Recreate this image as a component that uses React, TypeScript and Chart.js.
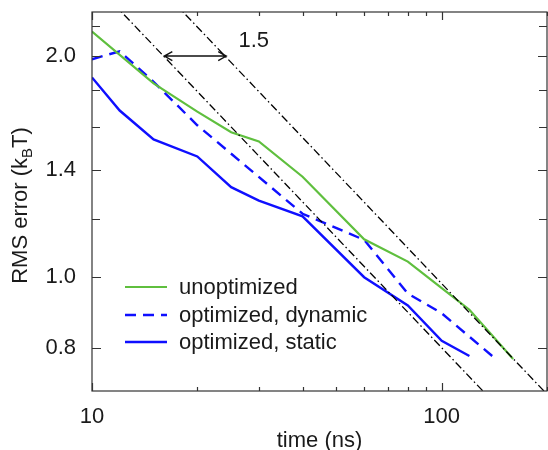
import React, { useEffect, useRef } from 'react';
import { Chart, registerables } from 'chart.js';
Chart.register(...registerables);

// ---- data ----
const unoptX = [10, 15, 20, 25, 30, 40, 60, 80, 100, 120, 160];
const unoptY = [2.16, 1.836, 1.68, 1.575, 1.53, 1.37, 1.126, 1.05, 0.966, 0.903, 0.774];
const dynX = [10, 12, 15, 20, 40, 60, 80, 100, 140];
const dynY = [1.98, 2.03, 1.845, 1.61, 1.22, 1.124, 0.95, 0.893, 0.78];
const statX = [10, 12, 15, 20, 25, 30, 40, 60, 80, 100, 120];
const statY = [1.87, 1.686, 1.54, 1.46, 1.326, 1.271, 1.21, 1.0, 0.915, 0.819, 0.781];
const guide1X = [10, 135];
const guide1Y = [2.53, 0.69];
const guide2X = [15, 200];
const guide2Y = [2.53, 0.693];
const arrowX = [16.1, 24.2];
const arrowY = 2.0;
const ratioLabel = '1.5';
const ratioLabelPos = [29, 2.1];

const xTicks = [10, 20, 30, 40, 50, 60, 70, 80, 90, 100, 200];
const xLabelVals = [10, 100];
const yTicks = [0.8, 1.0, 1.2, 1.4, 1.6, 1.8, 2.0, 2.2];
const yLabelVals = [0.8, 1.0, 1.4, 2.0];

const seriesNames = ['unoptimized', 'optimized, dynamic', 'optimized, static'];
const GREEN = '#5fbf3e';
const BLUE = '#0f0fff';
const FONT = '"Liberation Sans", Arial, Helvetica, sans-serif';
const TEXT = '#1a1a1a';

const pts = (xs: number[], ys: number[]) => xs.map((x, i) => ({ x, y: ys[i] }));

const zeroPad = (s: any) => {
  s.paddingTop = 0;
  s.paddingBottom = 0;
  s.paddingLeft = 0;
  s.paddingRight = 0;
};

const decorPlugin = {
  id: 'decor',
  afterDatasetsDraw(chart: any) {
    const { ctx, chartArea: a, scales } = chart;
    const xs = scales.x;
    const ys = scales.y;
    ctx.save();
    // frame
    ctx.strokeStyle = '#333';
    ctx.lineWidth = 1.2;
    ctx.strokeRect(a.left, a.top, a.right - a.left, a.bottom - a.top);
    // ticks (inward, mirrored)
    ctx.beginPath();
    for (const v of xTicks) {
      const px = Math.round(xs.getPixelForValue(v)) + 0.5;
      const len = xLabelVals.includes(v) ? 8 : 4;
      ctx.moveTo(px, a.bottom);
      ctx.lineTo(px, a.bottom - len);
      ctx.moveTo(px, a.top);
      ctx.lineTo(px, a.top + len);
    }
    for (const v of yTicks) {
      const py = Math.round(ys.getPixelForValue(v)) + 0.5;
      const len = yLabelVals.includes(v) ? 9 : 8;
      ctx.moveTo(a.left, py);
      ctx.lineTo(a.left + len, py);
      ctx.moveTo(a.right, py);
      ctx.lineTo(a.right - len, py);
    }
    ctx.stroke();

    // double arrow
    const ax1 = xs.getPixelForValue(arrowX[0]);
    const ax2 = xs.getPixelForValue(arrowX[1]);
    const ay = ys.getPixelForValue(arrowY);
    ctx.strokeStyle = '#111';
    ctx.lineWidth = 1.4;
    ctx.beginPath();
    ctx.moveTo(ax1, ay);
    ctx.lineTo(ax2, ay);
    ctx.moveTo(ax1 + 8, ay - 4.5);
    ctx.lineTo(ax1, ay);
    ctx.lineTo(ax1 + 8, ay + 4.5);
    ctx.moveTo(ax2 - 8, ay - 4.5);
    ctx.lineTo(ax2, ay);
    ctx.lineTo(ax2 - 8, ay + 4.5);
    ctx.stroke();

    ctx.fillStyle = TEXT;
    ctx.font = `22px ${FONT}`;
    ctx.textAlign = 'center';
    ctx.textBaseline = 'middle';
    ctx.fillText(ratioLabel, xs.getPixelForValue(ratioLabelPos[0]), ys.getPixelForValue(ratioLabelPos[1]));

    // legend
    const ds = chart.data.datasets.slice(2);
    const rows = [287, 315, 342];
    ds.forEach((d: any, i: number) => {
      ctx.strokeStyle = d.borderColor;
      ctx.lineWidth = d.borderWidth;
      ctx.setLineDash(d.borderDash || []);
      ctx.beginPath();
      ctx.moveTo(125, rows[i]);
      ctx.lineTo(167, rows[i]);
      ctx.stroke();
      ctx.setLineDash([]);
      ctx.fillStyle = TEXT;
      ctx.font = `22px ${FONT}`;
      ctx.textAlign = 'left';
      ctx.textBaseline = 'middle';
      ctx.fillText(seriesNames[i], 179, rows[i] + 1);
    });

    // x title
    ctx.textAlign = 'center';
    ctx.textBaseline = 'alphabetic';
    ctx.fillText('time (ns)', (a.left + a.right) / 2, 447);

    // y title with subscript
    const p1 = 'RMS error (k';
    const p2 = 'B';
    const p3 = 'T)';
    ctx.font = `22px ${FONT}`;
    const w1 = ctx.measureText(p1).width;
    const w3 = ctx.measureText(p3).width;
    ctx.font = `15px ${FONT}`;
    const w2 = ctx.measureText(p2).width;
    const total = w1 + w2 + w3;
    ctx.translate(27, (a.top + a.bottom) / 2 + 4);
    ctx.rotate(-Math.PI / 2);
    ctx.textAlign = 'left';
    let cx = -total / 2;
    ctx.font = `22px ${FONT}`;
    ctx.fillText(p1, cx, 0);
    cx += w1;
    ctx.font = `15px ${FONT}`;
    ctx.fillText(p2, cx, 5);
    cx += w2;
    ctx.font = `22px ${FONT}`;
    ctx.fillText(p3, cx, 0);
    ctx.restore();
  },
};

export default function App() {
  const ref = useRef<HTMLCanvasElement | null>(null);
  useEffect(() => {
    if (!ref.current) return;
    const guideStyle = {
      borderColor: '#000',
      borderWidth: 1.3,
      borderDash: [8, 3, 1.5, 3],
      pointRadius: 0,
      fill: false,
    };
    const chart = new Chart(ref.current, {
      type: 'line',
      data: {
        datasets: [
          { label: 'guide 1', data: pts(guide1X, guide1Y), ...guideStyle },
          { label: 'guide 2', data: pts(guide2X, guide2Y), ...guideStyle },
          { label: seriesNames[0], data: pts(unoptX, unoptY), borderColor: GREEN, borderWidth: 2.2, pointRadius: 0, fill: false },
          { label: seriesNames[1], data: pts(dynX, dynY), borderColor: BLUE, borderWidth: 2.4, borderDash: [11, 7], pointRadius: 0, fill: false },
          { label: seriesNames[2], data: pts(statX, statY), borderColor: BLUE, borderWidth: 2.4, pointRadius: 0, fill: false },
        ],
      },
      options: {
        responsive: false,
        animation: false,
        layout: { padding: { left: 0, top: 12, right: 1, bottom: 0 } },
        plugins: { legend: { display: false }, tooltip: { enabled: false } },
        elements: { line: { tension: 0 } },
        scales: {
          x: {
            type: 'logarithmic',
            min: 10,
            max: 200,
            grid: { display: false, drawTicks: false },
            border: { display: false },
            afterBuildTicks: (s: any) => {
              s.ticks = xTicks.map((v) => ({ value: v }));
            },
            afterFit: (s: any) => {
              s.height = 59;
              zeroPad(s);
            },
            ticks: {
              autoSkip: false,
              maxRotation: 0,
              padding: 13,
              color: TEXT,
              font: { family: FONT, size: 22 },
              callback: (v: any) => (xLabelVals.includes(Number(v)) ? String(v) : ''),
            },
          },
          y: {
            type: 'logarithmic',
            min: 0.703,
            max: 2.296,
            grid: { display: false, drawTicks: false },
            border: { display: false },
            afterBuildTicks: (s: any) => {
              s.ticks = yTicks.map((v) => ({ value: v }));
            },
            afterFit: (s: any) => {
              s.width = 92;
              zeroPad(s);
            },
            ticks: {
              autoSkip: false,
              padding: 16,
              color: TEXT,
              font: { family: FONT, size: 22 },
              callback: (v: any) => (yLabelVals.includes(Number(v)) ? Number(v).toFixed(1) : ''),
            },
          },
        },
      },
      plugins: [decorPlugin],
    } as any);
    return () => chart.destroy();
  }, []);
  return (
    <div style={{ position: 'fixed', left: 0, top: 0, width: 548, height: 450, background: '#fff' }}>
      <canvas ref={ref} width={548} height={450} />
    </div>
  );
}
